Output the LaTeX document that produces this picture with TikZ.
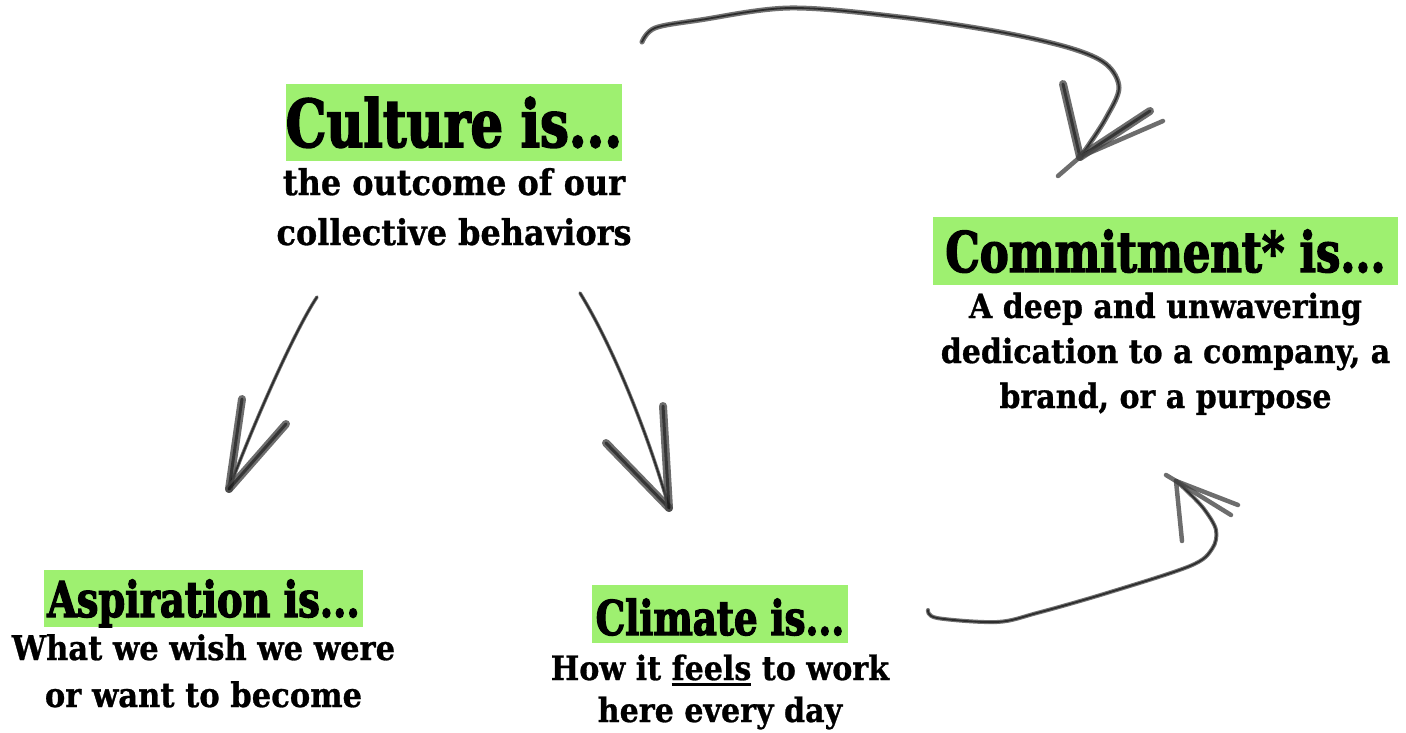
\documentclass[tikz,border=0pt]{standalone}
\usepackage{fontspec}
\setmainfont{DejaVu Serif Condensed}[UprightFont=* Bold, BoldFont=* Bold, FakeBold=0.8]
\newfontfamily\headfont{DejaVu Serif Condensed}[UprightFont=* Bold, FakeBold=2.4, FakeStretch=0.86]
\definecolor{hl}{RGB}{158,240,112}
\definecolor{crayon}{RGB}{35,35,35}
% thick underline for a single word
\newcommand\thickul[1]{\setbox0\hbox{#1}\rlap{\rule[-6pt]{\wd0}{2.6pt}}\box0\relax}
\tikzset{
  heading/.style={fill=hl, inner xsep=0pt, inner ysep=0pt, anchor=base},
  body/.style={anchor=base, align=center, inner sep=0pt},
  shaft/.style={draw=crayon!80, line width=5pt, line cap=round, line join=round, opacity=0.8,
    postaction={draw=black, line width=1.8pt, opacity=0.6}},
  barb/.style={draw=crayon!85, line width=8pt, line cap=round, opacity=0.78,
    postaction={draw=black, line width=3pt, opacity=0.5}},
  thinbarb/.style={draw=crayon!85, line width=4.5pt, line cap=round, opacity=0.78},
}
\begin{document}
\begin{tikzpicture}[x=1pt, y=-1pt]
\useasboundingbox (0,0) rectangle (1406,733);

% headings on green bars
\node[heading, minimum width=330pt, text height=63pt, text depth=14pt,
  font=\headfont\fontsize{66}{76}\selectfont] (culture) at (454,147) {Culture is...};
\node[heading, minimum width=465pt, text height=55pt, text depth=13pt,
  font=\headfont\fontsize{56}{64}\selectfont] (commit) at (1165.5,272) {Commitment* is...};
\node[heading, minimum width=319pt, text height=47pt, text depth=10pt,
  font=\headfont\fontsize{49.5}{58}\selectfont] (aspire) at (203.5,617) {Aspiration is...};
\node[heading, minimum width=256pt, text height=50pt, text depth=8pt,
  font=\headfont\fontsize{48}{56}\selectfont] (climate) at (720,635) {Climate is...};

% descriptions (anchored on the baseline of the last line)
\node[body, font=\fontsize{35.5}{50}\selectfont] (culture-txt) at (454,245)
  {the outcome of our\\collective behaviors};
\node[body, font=\fontsize{33.4}{45}\selectfont] (commit-txt) at (1165.5,408)
  {A deep and unwavering\\dedication to a company, a\\brand, or a purpose};
\node[body, font=\fontsize{34}{47}\selectfont] (aspire-txt) at (203.5,707)
  {What we wish we were\\or want to become};
\node[body, font=\fontsize{33.5}{42}\selectfont] (climate-txt) at (720,722)
  {How it \thickul{feels} to work\\here every day};

% arrow ends
\coordinate (top-start) at (642,42);
\coordinate (top-tip) at (1080,157);
\coordinate (left-start) at (317,297);
\coordinate (left-tip) at (229,489);
\coordinate (mid-start) at (580,293);
\coordinate (mid-tip) at (669,508);
\coordinate (low-start) at (928,610);
\coordinate (low-tip) at (1176,481);

% long arrow over the top towards commitment
\draw[shaft] plot[smooth, tension=0.55] coordinates {(top-start) (655,28) (700,20) (790,8)
  (900,17) (1000,32) (1070,48) (1106,64) (1119,88) (1106,118) (1088,146) (top-tip)};
\draw[barb] (top-tip) -- (1063,84);
\draw[barb] (top-tip) -- (1150,111);
\draw[thinbarb] (top-tip) -- (1163,121);
\draw[thinbarb] (top-tip) -- (1058,176);

% culture down to aspiration
\draw[shaft, line width=3.5pt] (left-start) .. controls (295,330) and (255,420) .. (left-tip);
\draw[barb] (left-tip) -- (242,399);
\draw[barb] (left-tip) -- (286,424);

% culture down to climate
\draw[shaft, line width=3.5pt] (mid-start) .. controls (615,350) and (650,440) .. (mid-tip);
\draw[barb] (mid-tip) -- (606,443);
\draw[barb] (mid-tip) -- (663,406);

% climate up to commitment
\draw[shaft, line width=4pt] plot[smooth, tension=0.55] coordinates {(low-start) (937,618) (997,622)
  (1037,613) (1107,593) (1190,566) (1212,549) (1216,530) (1204,509) (1187,491) (low-tip)};
\draw[thinbarb] (low-tip) -- (1182,541);
\draw[thinbarb] (low-tip) -- (1238,505);
\draw[thinbarb] (low-tip) -- (1231,515);
\draw[thinbarb] (low-tip) -- (1166,475);
\end{tikzpicture}
\end{document}
